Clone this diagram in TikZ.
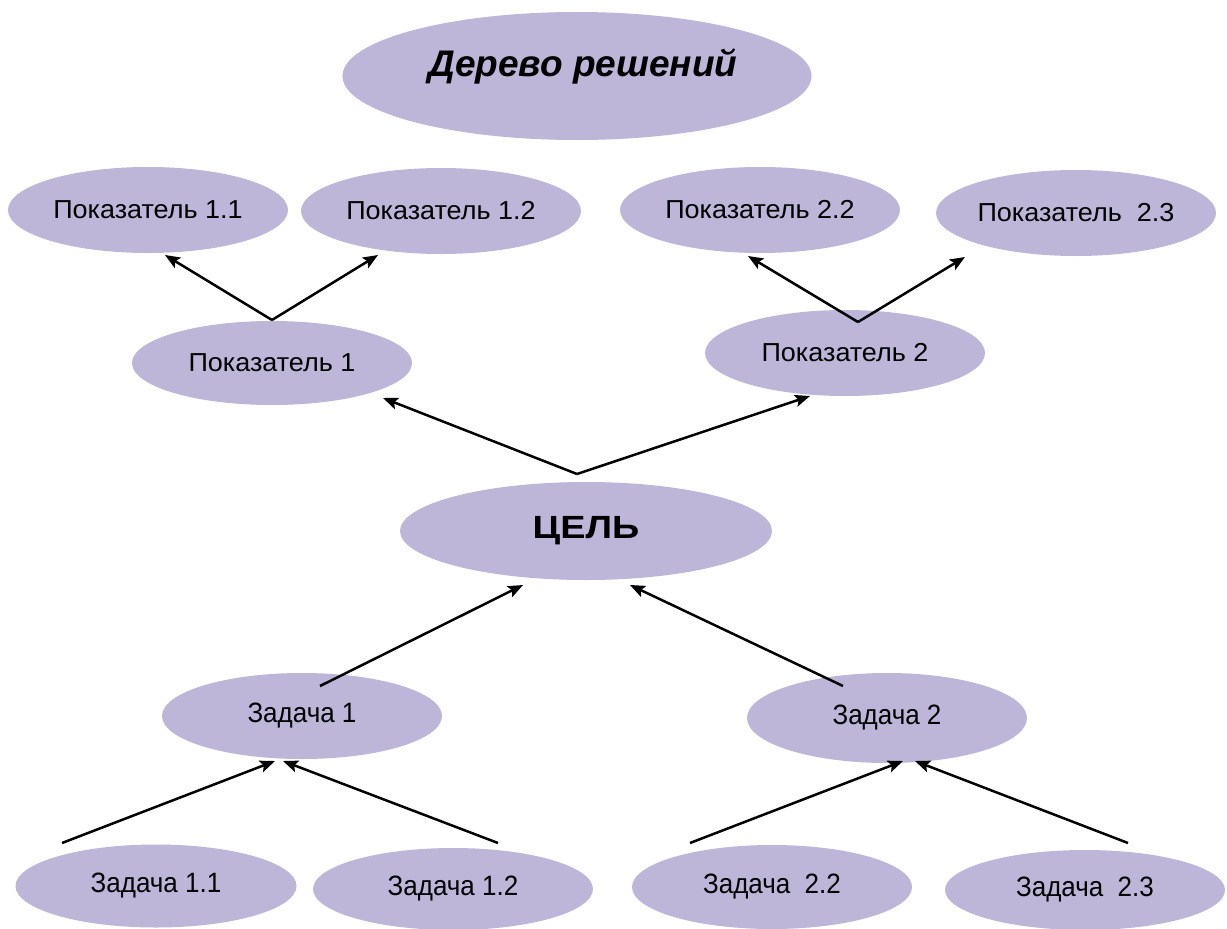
\documentclass[tikz,border=0pt]{standalone}
\usepackage{fontspec}
\usepackage{graphicx}
\setmainfont{Liberation Sans}
\usetikzlibrary{arrows.meta,shapes.geometric}
\definecolor{lav}{HTML}{BDB6D8}
\newcommand{\txtP}[1]{\scalebox{1.35}[1.3]{#1}}
\newcommand{\txtZ}[1]{\scalebox{1.3}[1.4]{#1}}
\begin{document}
\begin{tikzpicture}[x=1pt,y=-1pt,
  ell/.style={ellipse,fill=lav,inner sep=0pt,minimum width=280pt,minimum height=86pt,font=\fontsize{20}{24}\selectfont},
  arr/.style={line width=2.5pt,-{Stealth[length=15pt,width=12pt,inset=3pt]}}]
\useasboundingbox (0,0) rectangle (1227,929);
\node[ell,minimum width=469pt,minimum height=128pt,font=\fontsize{37}{42}\selectfont\bfseries\itshape] (title) at (577,76) {\hspace{12pt}\raisebox{26pt}{Дерево решений}};
\node[ell] (p11) at (148,210) {\txtP{Показатель 1.1}};
\node[ell] (p12) at (441,211) {\txtP{Показатель 1.2}};
\node[ell] (p22) at (760,210) {\txtP{Показатель 2.2}};
\node[ell] (p23) at (1076,213) {\txtP{Показатель~~2.3}};
\node[ell,minimum height=84pt] (p1) at (272,363) {\txtP{Показатель 1}};
\node[ell] (p2) at (845,353) {\txtP{Показатель 2}};
\node[ell,minimum width=372pt,minimum height=98pt,font=\fontsize{30}{34}\selectfont\bfseries] (goal) at (586,531) {\scalebox{1.26}[1.07]{ЦЕЛЬ}};
\node[ell] (z1) at (302,716) {\txtZ{Задача 1}};
\node[ell,minimum height=90pt] (z2) at (887,718) {\txtZ{Задача 2}};
\node[ell,minimum width=281pt,minimum height=83pt] (z11) at (156,886) {\txtZ{Задача 1.1}};
\node[ell,minimum height=82pt] (z12) at (453,889) {\txtZ{Задача 1.2}};
\node[ell,minimum height=84pt] (z22) at (772,887) {\txtZ{Задача~~2.2}};
\node[ell,minimum height=80pt] (z23) at (1085,890) {\txtZ{Задача~~2.3}};
% free ends
\coordinate (s1) at (272,320);
\coordinate (s2) at (858,322);
\coordinate (sg) at (577,474);
\coordinate (sz1) at (320,686);
\coordinate (sz2) at (843,686);
\coordinate (s11) at (62,843);
\coordinate (s12) at (498,843);
\coordinate (s22) at (690,843);
\coordinate (s23) at (1128,843);
\coordinate (e11) at (165,255);
\coordinate (e12) at (378,255);
\coordinate (e22) at (748,256);
\coordinate (e23) at (965,257);
\coordinate (ep1) at (383,398);
\coordinate (ep2) at (810,396);
\coordinate (eg1) at (523,585);
\coordinate (eg2) at (630,585);
\coordinate (ez1a) at (275,761);
\coordinate (ez1b) at (283,761);
\coordinate (ez2a) at (903,761);
\coordinate (ez2b) at (915,761);
\draw[arr] (s1) -- (e11);
\draw[arr] (s1) -- (e12);
\draw[arr] (s2) -- (e22);
\draw[arr] (s2) -- (e23);
\draw[arr] (sg) -- (ep1);
\draw[arr] (sg) -- (ep2);
\draw[arr] (sz1) -- (eg1);
\draw[arr] (sz2) -- (eg2);
\draw[arr] (s11) -- (ez1a);
\draw[arr] (s12) -- (ez1b);
\draw[arr] (s22) -- (ez2a);
\draw[arr] (s23) -- (ez2b);
\end{tikzpicture}
\end{document}
